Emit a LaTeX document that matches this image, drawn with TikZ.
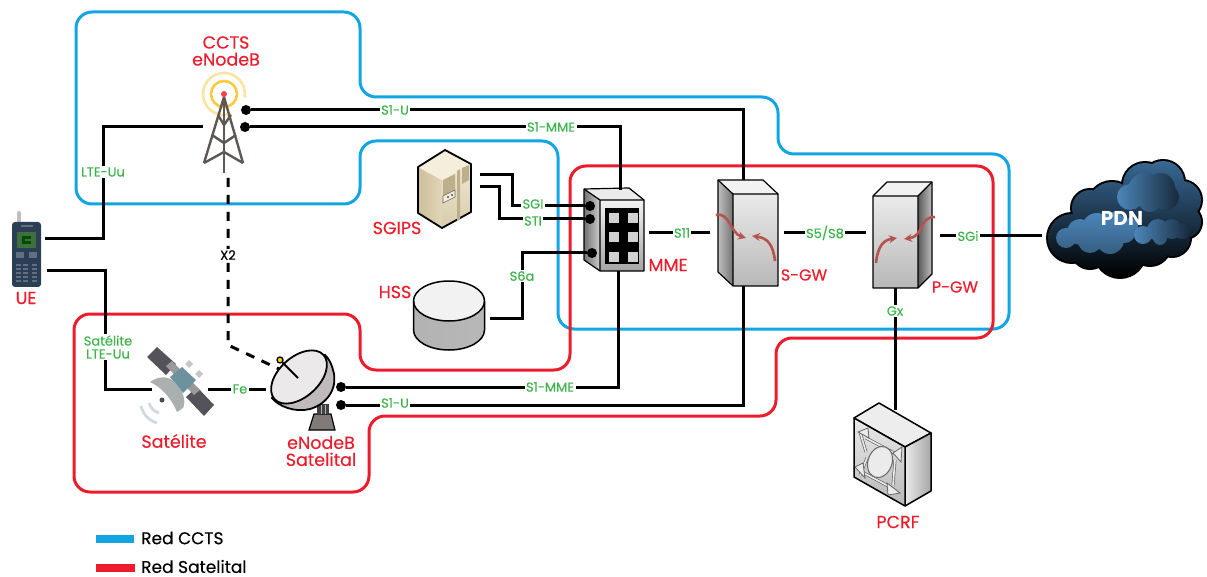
\documentclass[tikz,border=0pt]{standalone}
\usepackage{fontspec}
\setmainfont{Poppins}[FakeBold=0.3]
\newfontfamily\pdnfont{Poppins}[Scale=1]
\usetikzlibrary{arrows.meta,calc}
\definecolor{ccts}{HTML}{12A5E3}
\definecolor{sat}{HTML}{ED1C2C}
\definecolor{lbl}{HTML}{3DB54A}
\definecolor{arr}{HTML}{B4544C}
\definecolor{cloudlight}{RGB}{76,134,186}
\definecolor{clouddark}{RGB}{24,42,60}
\tikzset{
  x=1pt,y=-1pt,
  netblue/.style={draw=ccts,line width=3pt,rounded corners=16pt},
  netred/.style={draw=sat,line width=3pt,rounded corners=16pt},
  wire/.style={draw=black,line width=3pt},
  dashwire/.style={draw=black,line width=3pt,dash pattern=on 9pt off 8pt},
  dotn/.style={circle,fill=black,inner sep=0pt,minimum size=10pt},
  iflbl/.style={text=lbl,fill=white,inner sep=1.5pt,font=\fontsize{13}{13}\selectfont,align=center},
  namelbl/.style={text=sat,inner sep=0pt,font=\fontsize{17.5}{17}\selectfont,align=center},
  gwlbl/.style={text=sat,inner sep=0pt,font=\fontsize{16}{17}\selectfont,align=center},
  legendlbl/.style={text=black,inner sep=0pt,anchor=west,font=\fontsize{17}{18}\selectfont},
  edge/.style={draw=black,line width=1.2pt,line join=round},
  curv/.style={draw=arr,line width=2.6pt,-{Stealth[length=8pt,width=8pt]}},
  blobL/.style={left color=cloudlight,right color=clouddark},
}
\begin{document}
\begin{tikzpicture}
\useasboundingbox (0,0) rectangle (1207,577);
% ---- network contours
\draw[netblue] (76,12) -- (360,12) -- (360,97) -- (778,97) -- (778,154) -- (1009,154) -- (1009,329) -- (558,329) -- (558,141) -- (360,141) -- (360,204) -- (76,204) -- cycle;
\draw[netred] (74,314) -- (360,314) -- (360,370) -- (570,370) -- (570,166) -- (993,166) -- (993,338) -- (776,338) -- (776,416) -- (369,416) -- (369,492) -- (74,492) -- cycle;
% ---- MME
\shade[left color=black!55,right color=black!20] (584,189) -- (600,200) -- (600,271) -- (584,260) -- cycle;
\shade[top color=black!5,bottom color=black!35] (600,200) rectangle (644,271);
\fill[fill=black!8] (584,189) -- (629,188) -- (644,200) -- (600,200) -- cycle;
\draw[edge] (584,189) -- (629,188) -- (644,200) -- (644,271) -- (600,271) -- (584,260) -- cycle;
\draw[edge] (584,189) -- (600,200) -- (644,200) (600,200) -- (600,271);
\fill[black] (605,208) rectangle (639,264);
\foreach \gy in {213,232.5,252}{
  \foreach \gx in {608.5,627.5}{\fill[fill=black!18] (\gx,\gy) rectangle ++(10,10);}
}
% ---- anchors
\coordinate (ueA) at (45,239); \coordinate (ueA1) at (103,239); \coordinate (ueA2) at (103,127); \coordinate (towerW) at (203,127);
\coordinate (ueB) at (47,271); \coordinate (ueB1) at (105,271); \coordinate (ueB2) at (105,389); \coordinate (satW) at (152,389);
\coordinate (satE) at (208,389); \coordinate (dishW) at (266,389);
\node[dotn] (dU1) at (246,110) {};
\node[dotn] (dM1) at (245,127) {};
\node[dotn] (dM2) at (341,387) {};
\node[dotn] (dU2) at (341,405) {};
\coordinate (u1c) at (743,110); \coordinate (sgwN) at (743,182);
\coordinate (sgwS) at (743,286); \coordinate (u2c) at (743,405);
\coordinate (m1c) at (620,127); \coordinate (mmeN) at (620,190);
\coordinate (mmeS) at (618,271); \coordinate (m2c) at (618,387);
\coordinate (towerS) at (228,178); \coordinate (x2c) at (228,345); \coordinate (dishN) at (279,369);
\coordinate (srvA) at (480,175); \coordinate (srvA1) at (512,175); \coordinate (srvA2) at (512,206);
\coordinate (srvB) at (480,187); \coordinate (srvB1) at (499,187); \coordinate (srvB2) at (499,219);
\node[dotn] (dSGI) at (590,206) {};
\node[dotn] (dSTI) at (590,219) {};
\node[dotn] (dS6a) at (592,253) {};
\coordinate (hssE) at (490,318); \coordinate (hss1) at (522,318); \coordinate (hss2) at (522,253);
\coordinate (mmeE) at (649,233); \coordinate (sgwW) at (710,233);
\coordinate (sgwE) at (784,233); \coordinate (pgwW) at (866,233);
\coordinate (pgwE) at (940,236); \coordinate (pdnW) at (1042,236);
\coordinate (pgwS) at (895,288); \coordinate (pcrfN) at (895,410);
% ---- connectors
\draw[wire] (ueA) -- (ueA1) -- (ueA2) -- (towerW);
\draw[wire] (ueB) -- (ueB1) -- (ueB2) -- (satW);
\draw[wire] (satE) -- (dishW);
\draw[wire] (dU1) -- (u1c) -- (sgwN);
\draw[wire] (sgwS) -- (u2c) -- (dU2);
\draw[wire] (dM1) -- (m1c) -- (mmeN);
\draw[wire] (mmeS) -- (m2c) -- (dM2);
\draw[dashwire] (towerS) -- (x2c) -- (dishN);
\draw[wire] (srvA) -- (srvA1) -- (srvA2) -- (dSGI);
\draw[wire] (srvB) -- (srvB1) -- (srvB2) -- (dSTI);
\draw[wire] (hssE) -- (hss1) -- (hss2) -- (dS6a);
\draw[wire] (mmeE) -- (sgwW);
\draw[wire] (sgwE) -- (pgwW);
\draw[wire] (pgwE) -- (pdnW);
\draw[wire] (pgwS) -- (pcrfN);
% ---- interface labels
\node[iflbl] (lUu) at (103,172) {LTE-Uu};
\node[iflbl] (lSatUu) at (108,347) {Satélite\\LTE-Uu};
\node[iflbl] (lFe) at (240,389) {Fe};
\node[iflbl] (lU1) at (395,110) {S1-U};
\node[iflbl] (lM1) at (551,127) {S1-MME};
\node[iflbl] (lM2) at (550,387) {S1-MME};
\node[iflbl] (lU2) at (395,403) {S1-U};
\node[iflbl,text=black] (lX2) at (228,255) {X2};
\node[iflbl] (lSGI) at (533,204) {SGI};
\node[iflbl] (lSTI) at (533,221) {STI};
\node[iflbl] (lS6a) at (522,276) {S6a};
\node[iflbl] (lS11) at (682,233) {S11};
\node[iflbl] (lS5) at (825,233) {S5/S8};
\node[iflbl] (lSGi) at (968,236) {SGi};
\node[iflbl] (lGx) at (895,311) {Gx};
% ---- phone
\definecolor{phbody}{RGB}{44,62,85}
\definecolor{phkey}{RGB}{95,112,130}
\definecolor{phscr}{RGB}{62,112,62}
\draw[line width=4pt,draw=black!25,line cap=round] (19,213) -- (19,224);
\fill[fill=phbody,rounded corners=3pt] (12,222) rectangle (41,287);
\fill[fill=phkey] (21,225) rectangle (33,227);
\fill[fill=phscr] (17,232) rectangle (36,248);
\fill[fill=black!70!green] (22,236) rectangle (31,244);
\fill[fill=phscr] (25,239) rectangle (31,241);
\foreach \py in {264,268,272,276,280}{
  \foreach \px in {16,23,32}{\fill[fill=phkey] (\px,\py) rectangle ++(5,2);}
}
\fill[fill=phkey] (16,252) rectangle (24,258);
\fill[fill=phkey] (29,252) rectangle (37,258);
% ---- tower
\definecolor{ringA}{RGB}{253,226,160}
\definecolor{ringB}{RGB}{252,200,60}
\definecolor{towr}{RGB}{95,87,83}
\draw[draw=ringA,line width=2.6pt] (224,94) ++(70:21) arc[start angle=70,end angle=370,radius=21];
\draw[draw=ringB,line width=2.6pt] (224,94) circle[radius=13];
\begin{scope}[draw=towr,line width=2.4pt,line join=round]
\draw (204,163) -- (224,97) -- (243,163);
\draw (224,97) -- (224,173);
\draw (204,163) -- (224,152) -- (243,163);
\draw (212,135) -- (224,143) -- (236,135);
\draw (218,115) -- (224,125) -- (231,115);
\end{scope}
\fill[fill=red!75!white] (224,94) circle[radius=3];
% ---- satellite
\definecolor{panel}{RGB}{85,83,90}
\definecolor{sbody}{RGB}{108,146,158}
\definecolor{sdish}{RGB}{170,175,176}
\definecolor{wave}{RGB}{208,219,224}
\draw[draw=wave,line width=2.8pt] (141,406) .. controls (143,414) and (148,420) .. (157,423);
\draw[draw=wave,line width=2.8pt] (149,403) .. controls (151,408) and (153,411) .. (159,413);
\fill[fill=panel] (147,357) -- (157,347) -- (176,364) -- (166,375) -- cycle;
\fill[fill=panel] (186,397) -- (197,387) -- (214,405) -- (204,416) -- cycle;
\fill[fill=black!40] (166,366) -- (172,361) -- (200,390) -- (194,395) -- cycle;
\fill[fill=sbody] (170,377) -- (182,367) -- (196,380) -- (183,393) -- cycle;
\fill[fill=black!22] (189,360) -- (193,364) -- (189,368) -- (185,364) -- cycle;
\fill[fill=black!22] (199,370) -- (203,374) -- (199,378) -- (195,374) -- cycle;
\fill[fill=black!70] (162,400) circle[radius=2.5];
\fill[fill=sdish] (150,382) .. controls (158,376) and (170,375) .. (176,384) .. controls (184,392) and (186,402) .. (183,408) -- (177,412) .. controls (172,400) and (163,388) .. (150,382) -- cycle;
% ---- dish
\definecolor{stand}{RGB}{130,122,120}
\definecolor{dishb}{RGB}{192,186,188}
\definecolor{dishf}{RGB}{236,233,235}
\fill[fill=stand,draw=black,line width=1.2pt] (314,414) -- (331,414) -- (335,430) -- (309,430) -- cycle;
\fill[black!75] (317,404) rectangle (329,414);
\draw[draw=black!30,line width=1pt] (321,405) -- (321,414) (325,405) -- (325,414);
\fill[fill=dishb,draw=black,line width=1.8pt] (272,398) .. controls (278,406) and (295,413) .. (310,409) .. controls (330,403) and (338,385) .. (333,370) .. controls (331,362) and (328,358) .. (325,355) -- cycle;
\fill[fill=dishf,draw=black,line width=1.8pt,rotate around={42:(299,377)}] (299,377) ellipse[x radius=33,y radius=20];
\draw[line width=2pt] (298,378) -- (280,360);
\fill[fill=yellow!70!orange,draw=black,line width=1.3pt] (280,360) circle[radius=3];
% ---- server SGIPS
\definecolor{srvA1c}{RGB}{205,190,155}
\definecolor{srvA2c}{RGB}{226,214,184}
\definecolor{srvB1c}{RGB}{240,232,210}
\definecolor{srvB2c}{RGB}{215,203,170}
\definecolor{srvTop}{RGB}{244,238,220}
\definecolor{srvD}{RGB}{190,175,140}
\shade[left color=srvA1c,right color=srvA2c] (418,167) -- (442,180) -- (442,228) -- (418,213) -- cycle;
\shade[top color=srvB1c,bottom color=srvB2c] (442,180) -- (471,164) -- (471,212) -- (442,228) -- cycle;
\fill[fill=srvTop] (418,167) -- (445,150) -- (471,164) -- (442,180) -- cycle;
\draw[edge,line width=1.8pt] (418,167) -- (445,150) -- (471,164) -- (471,212) -- (442,228) -- (418,213) -- cycle;
\fill[fill=srvD] (457,171) -- (460,169) -- (460,219) -- (457,221) -- cycle;
\fill[fill=srvD] (443,180) -- (455,174) -- (455,190) -- (443,196) -- cycle;
\fill[fill=srvD] (462,168) -- (469,165) -- (469,180) -- (462,184) -- cycle;
\draw[draw=black!60,line width=.6pt,fill=srvTop] (443,196) -- (455,190) -- (455,197) -- (443,203) -- cycle;
\fill[black!70] (448,197) circle[radius=1.1] (452,195) circle[radius=1.1];
% ---- HSS
\shade[left color=black!30,middle color=black!3,right color=black!28] (413.5,301) -- (413.5,330) arc[start angle=180,end angle=0,x radius=35.5,y radius=20] -- (484.5,301) -- cycle;
\fill[black!5] (449,301) ellipse[x radius=35.5,y radius=20];
\draw[edge,line width=1.5pt] (413.5,301) -- (413.5,330) arc[start angle=180,end angle=0,x radius=35.5,y radius=20] -- (484.5,301);
\draw[edge,line width=1.5pt] (449,301) ellipse[x radius=35.5,y radius=20];
% ---- S-GW
\shade[left color=black!25,right color=black!55] (718,180) -- (733,194) -- (733,286) -- (718,272) -- cycle;
\shade[top color=black!8,bottom color=black!28] (733,194) rectangle (778,286);
\fill[fill=black!5] (718,180) -- (763,180) -- (778,194) -- (733,194) -- cycle;
\draw[edge] (718,180) -- (763,180) -- (778,194) -- (778,286) -- (733,286) -- (718,272) -- cycle;
\draw[edge] (718,180) -- (733,194) -- (778,194) (733,194) -- (733,286);
\draw[curv] (716,215) .. controls (730,212) and (730,233) .. (746,238);
\draw[curv] (775,261) .. controls (773,245) and (768,238) .. (752,236);
% ---- P-GW
\shade[left color=black!65,right color=black!25] (918,196) -- (932,182) -- (932,274) -- (918,288) -- cycle;
\shade[top color=black!8,bottom color=black!28] (873,196) rectangle (918,288);
\fill[fill=black!5] (873,196) -- (887,182) -- (932,182) -- (918,196) -- cycle;
\draw[edge] (873,196) -- (887,182) -- (932,182) -- (932,274) -- (918,288) -- (873,288) -- cycle;
\draw[edge] (873,196) -- (918,196) -- (932,182) (918,196) -- (918,288);
\draw[curv] (876,263) .. controls (878,245) and (884,240) .. (897,238);
\draw[curv] (935,217) .. controls (918,217) and (925,236) .. (904,239);
% ---- PDN cloud
\definecolor{cloudtop}{RGB}{56,104,148}
\definecolor{cloudmid}{RGB}{28,56,84}
\newcommand{\pdnshape}{(1072,238) circle[radius=24] (1090,208) circle[radius=18] (1112,206) circle[radius=24] (1145,185) circle[radius=22] (1163,182) circle[radius=21] (1182,200) circle[radius=19] (1185,222) circle[radius=16] (1172,238) circle[radius=18] (1150,245) circle[radius=20] (1120,252) circle[radius=25] (1090,250) circle[radius=18] (1105,230) circle[radius=25] (1150,215) circle[radius=25]}
\draw[draw=black,fill=black,line width=4pt] \pdnshape;
\shade[top color=cloudtop,middle color=cloudmid,bottom color=black] \pdnshape;
\shade[top color=cloudlight,bottom color=cloudlight!70!black] (1066,238) circle[radius=10] (1080,232) circle[radius=13] (1097,228) circle[radius=15] (1113,225) circle[radius=13] (1110,240) circle[radius=14] (1090,241) circle[radius=12] (1125,233) circle[radius=10] (1130,226) circle[radius=8];
\shade[blobL] (1130,197) circle[radius=13] (1145,190) circle[radius=17] (1160,188) circle[radius=15] (1166,197) circle[radius=13] (1150,200) circle[radius=12];
\shade[blobL] (1143,235) circle[radius=9] (1158,230) circle[radius=11] (1172,229) circle[radius=10] (1182,231) circle[radius=8] (1160,238) circle[radius=7];
\node[text=white,inner sep=0pt,font=\fontsize{20}{22}\selectfont\pdnfont\bfseries] (pdn) at (1122,218) {PDN};
% ---- PCRF
\draw[edge,line width=1.5pt,fill=black!7] (854,418) -- (879,403) -- (931,433) -- (905,447) -- cycle;
\shade[left color=black!8,right color=black!35] (905,447) -- (931,433) -- (931,491) -- (905,506) -- cycle;
\shade[top color=black!8,bottom color=black!28] (854,418) -- (905,447) -- (905,506) -- (854,477) -- cycle;
\draw[edge,line width=1.5pt] (854,418) -- (905,447) -- (905,506) -- (854,477) -- cycle;
\draw[edge,line width=1.5pt] (905,447) -- (931,433) -- (931,491) -- (905,506);
\foreach \ax/\ay/\bx/\by in {866/452/860/432, 866/438/898/455, 862/472/892/488, 895/460/893/485, 867/458/860/475}{
  \draw[draw=black!60,line width=3pt] (\ax,\ay) -- (\bx,\by);
  \draw[draw=black!8,line width=1.6pt] (\ax,\ay) -- (\bx,\by);
}
\foreach \ax/\ay/\bx/\by/\cx/\cy in {858/432/868/428/869/438, 893/453/902/447/901/462, 887/483/900/493/888/495, 855/467/863/463/865/478}{
  \draw[draw=black!60,fill=black!8,line width=.8pt] (\ax,\ay) -- (\bx,\by) -- (\cx,\cy) -- cycle;
}
\draw[draw=black!60,fill=black!8,line width=1pt,rotate around={-20:(880,462)}] (880,462) ellipse[x radius=12,y radius=16];
% ---- names
\node[namelbl] (nCCTS) at (226,51) {CCTS\\eNodeB};
\node[namelbl] (nUE) at (26,298) {UE};
\node[namelbl] (nSat) at (174,441) {Satélite};
\node[namelbl] (nDish) at (321,451) {eNodeB\\Satelital};
\node[namelbl] (nSGIPS) at (397,228) {SGIPS};
\node[namelbl] (nHSS) at (395,292) {HSS};
\node[namelbl] (nMME) at (668,265) {MME};
\node[gwlbl] (nSGW) at (804,275) {S-GW};
\node[gwlbl] (nPGW) at (955,287) {P-GW};
\node[namelbl] (nPCRF) at (898,522) {PCRF};
% ---- legend
\fill[ccts] (96,535) rectangle (134,543);
\fill[sat] (96,564) rectangle (135,572);
\node[legendlbl] (legA) at (141,538) {Red CCTS};
\node[legendlbl] (legB) at (141,566.5) {Red Satelital};
\end{tikzpicture}
\end{document}
